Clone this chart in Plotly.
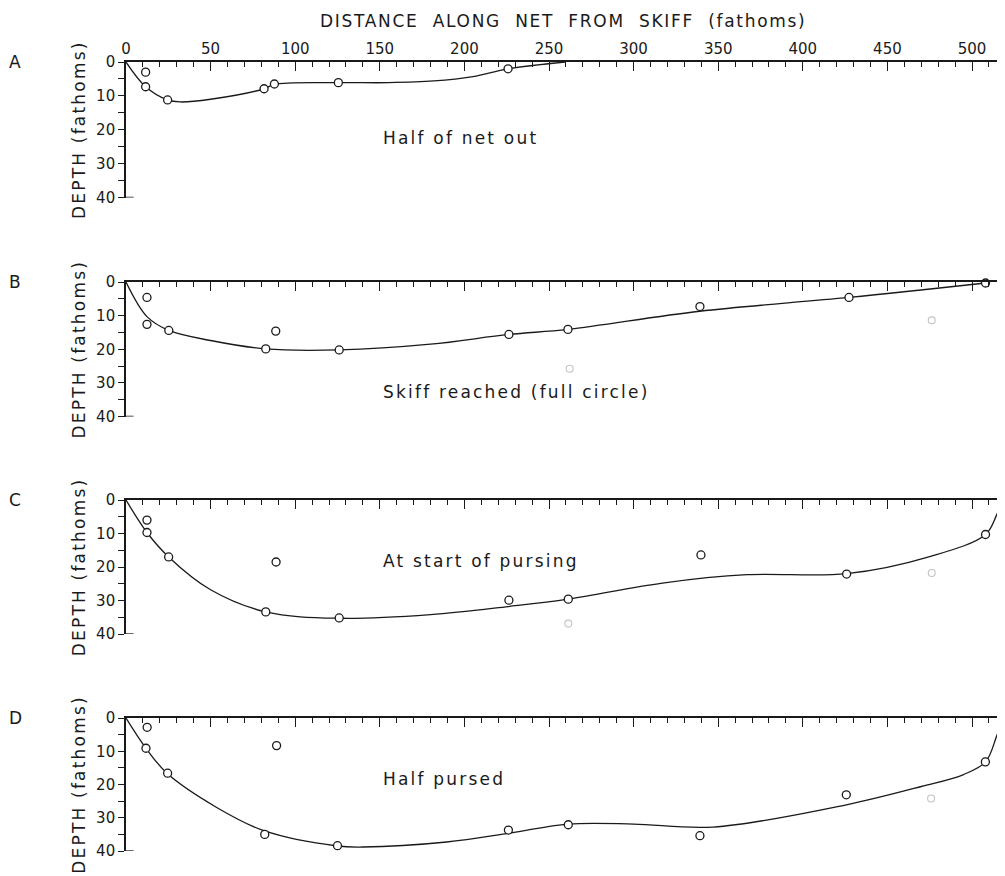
import plotly.graph_objects as go

# ---------------- data (fathoms) ----------------
panel_letters = ["A", "B", "C", "D"]
panel_texts = ["Half of net out", "Skiff reached (full circle)",
               "At start of pursing", "Half pursed"]
text_x = [150.7, 150.7, 150.7, 150.7]
text_depth = [22.5, 32.6, 18.2, 18.3]

# observed depths (open circles)
a_x = [11.6, 11.6, 24.6, 81.6, 87.7, 125.5, 225.8]
a_d = [3.0, 7.3, 11.2, 7.9, 6.5, 6.1, 2.0]
b_x = [12.4, 12.4, 25.3, 82.6, 88.5, 126, 226.3, 261.2, 339.2, 427.3, 508]
b_d = [4.6, 12.6, 14.4, 19.9, 14.6, 20.2, 15.6, 14.1, 7.3, 4.6, 0.3]
c_x = [12.4, 12.4, 25.2, 88.7, 82.6, 126, 226.3, 261.4, 339.8, 425.9, 508]
c_d = [6.0, 9.7, 17.0, 18.5, 33.4, 35.2, 29.9, 29.6, 16.4, 22.1, 10.3]
d_x = [12.5, 11.8, 24.6, 89, 82, 125, 226, 261.4, 339.2, 425.7, 507.9]
d_d = [2.8, 9.1, 16.6, 8.3, 35.0, 38.4, 33.7, 32.1, 35.4, 23.1, 13.2]

# faint (uncertain) readings
b_fx = [262.2, 476.2]
b_fd = [25.8, 11.4]
c_fx = [261.4, 476.2]
c_fd = [36.9, 21.8]
d_fx = [261.4, 475.8]
d_fd = [47.0, 24.2]

# hand-drawn net profile curves
a_cx = [0, 11.6, 24.6, 32, 50, 81.6, 87.7, 125.5, 155, 182, 205, 225.8, 259.5]
a_cd = [0, 7.3, 11.2, 11.8, 11.0, 7.9, 6.6, 6.1, 6.1, 5.6, 4.3, 2.0, 0]
b_cx = [0, 12.4, 25.3, 50, 82.6, 126, 180, 226.3, 261.2, 339, 427.3, 508]
b_cd = [0, 10.3, 14.4, 17.4, 19.9, 20.2, 18.5, 15.6, 14.1, 8.7, 4.6, 0.3]
c_cx = [0, 12.4, 25.2, 50, 82.6, 126, 180, 226, 261.4, 317, 367, 425.9, 475, 508, 514.5, 518]
c_cd = [0, 9.7, 17.0, 26.8, 33.4, 35.3, 34.2, 31.8, 29.6, 24.8, 22.3, 22.0, 16.9, 10.3, 4.5, 0]
d_cx = [0, 11.8, 24.4, 53.6, 81.5, 125, 140, 189.5, 227, 261.3, 300, 347, 425.7, 470, 495,
        508, 514.5, 518]
d_cd = [0, 9.1, 16.7, 26.9, 33.9, 38.5, 38.8, 37.3, 34.6, 31.9, 31.9, 32.8, 26.1, 20.6, 17.0,
        13.2, 5.5, 0.2]

x_title = "DISTANCE  ALONG  NET  FROM  SKIFF  (fathoms)"
y_title = "DEPTH (fathoms)"

# ---------------- figure ----------------
OFF = 8                      # page body margin offset
W, H = 1005 - OFF, 876 - OFF
FONT = "DejaVu Sans"
INK = "#1a1a1a"


def spaced(txt, px):
    return '<span style="letter-spacing:%.1fpx">%s</span>' % (px, txt)


def fx_(px):
    return (px - OFF) / W


def fy_(py):
    return 1 - (py - OFF) / H


panels = [
    (a_x, a_d, a_cx, a_cd, [], []),
    (b_x, b_d, b_cx, b_cd, b_fx, b_fd),
    (c_x, c_d, c_cx, c_cd, c_fx, c_fd),
    (d_x, d_d, d_cx, d_cd, d_fx, d_fd),
]
# page-pixel rows of each panel (top = depth 0, bottom = depth 40)
tops = [62, 282, 500, 718]
bottoms = [197.5, 416.5, 634, 851]
PLOT_LEFT = 126
PLOT_RIGHT = 1005
X_MAX = 519.5

fig = go.Figure()
layout = dict(
    width=W, height=H, margin=dict(l=0, r=0, t=0, b=0, autoexpand=False),
    paper_bgcolor="white", plot_bgcolor="white", showlegend=False,
    font=dict(family=FONT, size=15, color=INK),
)
annotations = []
shapes = []

for i, (px, pd, cx, cd, fx, fd) in enumerate(panels):
    n = "" if i == 0 else str(i + 1)
    xa, ya = "x" + n, "y" + n
    fig.add_trace(go.Scatter(x=cx, y=cd, mode="lines",
                             line=dict(color=INK, width=1.3, shape="spline", smoothing=1.0),
                             xaxis=xa, yaxis=ya, hoverinfo="skip", cliponaxis=False))
    fig.add_trace(go.Scatter(x=px, y=pd, mode="markers",
                             marker=dict(symbol="circle", size=8, color="white", line=dict(color=INK, width=1.3)),
                             xaxis=xa, yaxis=ya, cliponaxis=False))
    if fx:
        fig.add_trace(go.Scatter(x=fx, y=fd, mode="markers",
                                 marker=dict(symbol="circle", size=7, color="white",
                                             line=dict(color="#c4c4c4", width=1.1)),
                                 xaxis=xa, yaxis=ya, cliponaxis=False))
    dom = [fy_(bottoms[i]), fy_(tops[i])]
    layout["xaxis" + n] = dict(
        domain=[fx_(PLOT_LEFT), min(1.0, fx_(PLOT_RIGHT))], range=[0, X_MAX * (min(W, PLOT_RIGHT - OFF) - (PLOT_LEFT - OFF)) / (PLOT_RIGHT - PLOT_LEFT)],
        anchor=ya, side="top", automargin=False,
        showline=True, linecolor=INK, linewidth=1.6, mirror=False,
        ticks="inside", ticklen=9, tickwidth=1.3, tickcolor=INK, dtick=50, tick0=0,
        minor=dict(dtick=10, ticks="inside", ticklen=5, tickwidth=1.1, tickcolor=INK),
        showgrid=False, zeroline=False, showticklabels=(i == 0),
        tickfont=dict(family=FONT, size=15, color=INK),
    )
    if i > 0:
        layout["xaxis" + n]["matches"] = "x"
    layout["yaxis" + n] = dict(
        domain=dom, range=[40, 0], anchor=xa, automargin=False,
        showline=True, linecolor=INK, linewidth=1.6,
        ticks="outside", ticklen=6, tickwidth=1.3, tickcolor=INK, dtick=10, tick0=0,
        minor=dict(dtick=5, ticks="outside", ticklen=6, tickwidth=1.1, tickcolor=INK),
        showgrid=False, zeroline=False,
        tickfont=dict(family=FONT, size=15, color=INK),
        title=dict(text=spaced(y_title, 2.2), font=dict(family=FONT, size=17, color=INK), standoff=6),
    )
    # bottom foot of depth axis
    shapes.append(dict(type="line", xref=xa, yref=ya, x0=0, x1=4.5, y0=40, y1=40,
                       line=dict(color=INK, width=1.3)))
    annotations.append(dict(text=panel_letters[i], xref="paper", yref="paper",
                            x=fx_(15), y=fy_(tops[i]), xanchor="center", yanchor="middle",
                            showarrow=False, font=dict(family=FONT, size=17, color=INK)))
    annotations.append(dict(text=spaced(panel_texts[i], 2.2), xref=xa, yref=ya, x=text_x[i], y=text_depth[i],
                            xanchor="left", yanchor="middle", showarrow=False,
                            font=dict(family=FONT, size=17, color=INK)))

annotations.append(dict(text=spaced(x_title, 1.7), xref="paper", yref="paper", x=fx_(563), y=fy_(21),
                        xanchor="center", yanchor="middle",
                        showarrow=False, font=dict(family=FONT, size=17, color=INK)))
layout["annotations"] = annotations
layout["shapes"] = shapes
fig.update_layout(**layout)
fig.write_html("out.html")
